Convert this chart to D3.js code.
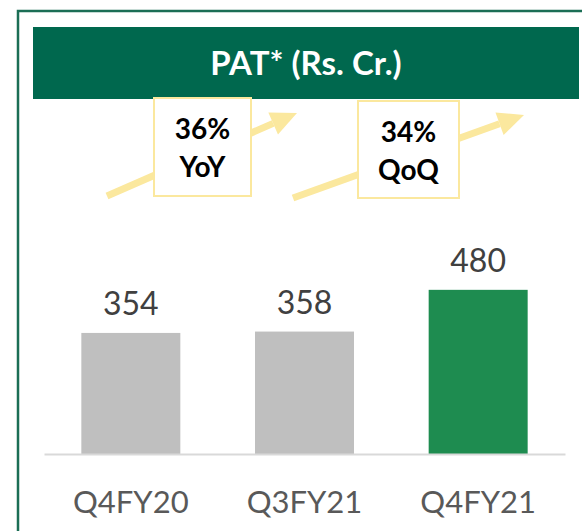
<!DOCTYPE html>
<html>
<head>
<meta charset="utf-8">
<script src="https://cdn.jsdelivr.net/npm/d3@7"></script>
<style>
  body { margin: 0; background: #fff; }
  svg { display: block; font-family: Lato, "Open Sans", sans-serif; }
</style>
</head>
<body>
<div id="chart"></div>
<script>
// PAT bar chart

var quarters = ["Q4FY20", "Q3FY21", "Q4FY21"];
var patValues = [354, 358, 480];
var barColors = ["#bfbfbf", "#bfbfbf", "#1e8c50"];
var growthLabels = [["36%", "YoY"], ["34%", "QoQ"]];
var chartTitle = "PAT* (Rs. Cr.)";

var svgWidth = 582;
var svgHeight = 531;

var svg = d3.select("#chart")
    .append("svg")
    .attr("width", svgWidth)
    .attr("height", svgHeight);

// outer frame (left + top lines)
svg.append("path")
    .attr("d", "M18,531 V11 H582")
    .attr("fill", "none")
    .attr("stroke", "#1b6e55")
    .attr("stroke-width", 2.5);

// header banner
svg.append("rect")
    .attr("x", 33)
    .attr("y", 27)
    .attr("width", 546)
    .attr("height", 72)
    .attr("fill", "#00684e");

svg.append("text")
    .attr("x", 306)
    .attr("y", 75)
    .attr("text-anchor", "middle")
    .attr("fill", "#fff")
    .attr("font-weight", "bold")
    .attr("font-size", 33)
    .text(chartTitle);

// scales
var baseline = 454;
var x = d3.scaleBand()
    .domain(quarters)
    .range([44, 565])
    .paddingInner(0.43)
    .paddingOuter(0.215);

var y = d3.scaleLinear()
    .domain([0, 500])
    .range([baseline, baseline - 171]);

// bars
svg.selectAll(".bar")
    .data(patValues)
    .enter()
    .append("rect")
    .attr("class", "bar")
    .attr("x", (d, i) => x(quarters[i]))
    .attr("y", d => y(d))
    .attr("width", x.bandwidth())
    .attr("height", d => baseline - y(d))
    .attr("fill", (d, i) => barColors[i]);

// axis line
var xAxis = svg.append("g")
    .attr("transform", `translate(0, ${baseline})`)
    .call(d3.axisBottom(x).tickSize(0).tickPadding(0));
xAxis.select(".domain")
    .attr("stroke", "#d9d9d9")
    .attr("stroke-width", 2);
xAxis.selectAll("text")
    .attr("dy", 0)
    .attr("y", 59)
    .attr("fill", "#595959")
    .attr("font-size", 31)
    .attr("font-family", "Lato, sans-serif");

// value labels
svg.selectAll(".value")
    .data(patValues)
    .enter()
    .append("text")
    .attr("class", "value")
    .attr("x", (d, i) => x(quarters[i]) + x.bandwidth() / 2)
    .attr("y", d => y(d) - 18)
    .attr("text-anchor", "middle")
    .attr("fill", "#404040")
    .attr("font-size", 32)
    .text(d => d);

// growth arrows
var arrows = [
    { x1: 107, y1: 196, x2: 297, y2: 113 },
    { x1: 293, y1: 198, x2: 524, y2: 115 }
];
var arrowColor = "#fbe89e";
arrows.forEach(function(a) {
    var ang = Math.atan2(a.y2 - a.y1, a.x2 - a.x1);
    var headLen = 26, headW = 12;
    var bx = a.x2 - headLen * Math.cos(ang);
    var by = a.y2 - headLen * Math.sin(ang);
    svg.append("line")
        .attr("x1", a.x1).attr("y1", a.y1)
        .attr("x2", bx).attr("y2", by)
        .attr("stroke", arrowColor)
        .attr("stroke-width", 7);
    var px = -Math.sin(ang), py = Math.cos(ang);
    svg.append("polygon")
        .attr("points", [
            [a.x2, a.y2],
            [bx + px * headW, by + py * headW],
            [bx - px * headW, by - py * headW]
        ].map(p => p.join(",")).join(" "))
        .attr("fill", arrowColor);
});

// growth boxes
var boxes = [
    { x: 154, y: 98, w: 97, h: 98 },
    { x: 358, y: 101, w: 101, h: 97 }
];
boxes.forEach(function(b, i) {
    svg.append("rect")
        .attr("x", b.x).attr("y", b.y)
        .attr("width", b.w).attr("height", b.h)
        .attr("fill", "#fff")
        .attr("stroke", arrowColor)
        .attr("stroke-width", 2);
    growthLabels[i].forEach(function(t, j) {
        svg.append("text")
            .attr("x", b.x + b.w / 2)
            .attr("y", b.y + 41 + j * 38)
            .attr("text-anchor", "middle")
            .attr("font-weight", "bold")
            .attr("font-size", 28)
            .attr("fill", "#000")
            .text(t);
    });
});
</script>
</body>
</html>
